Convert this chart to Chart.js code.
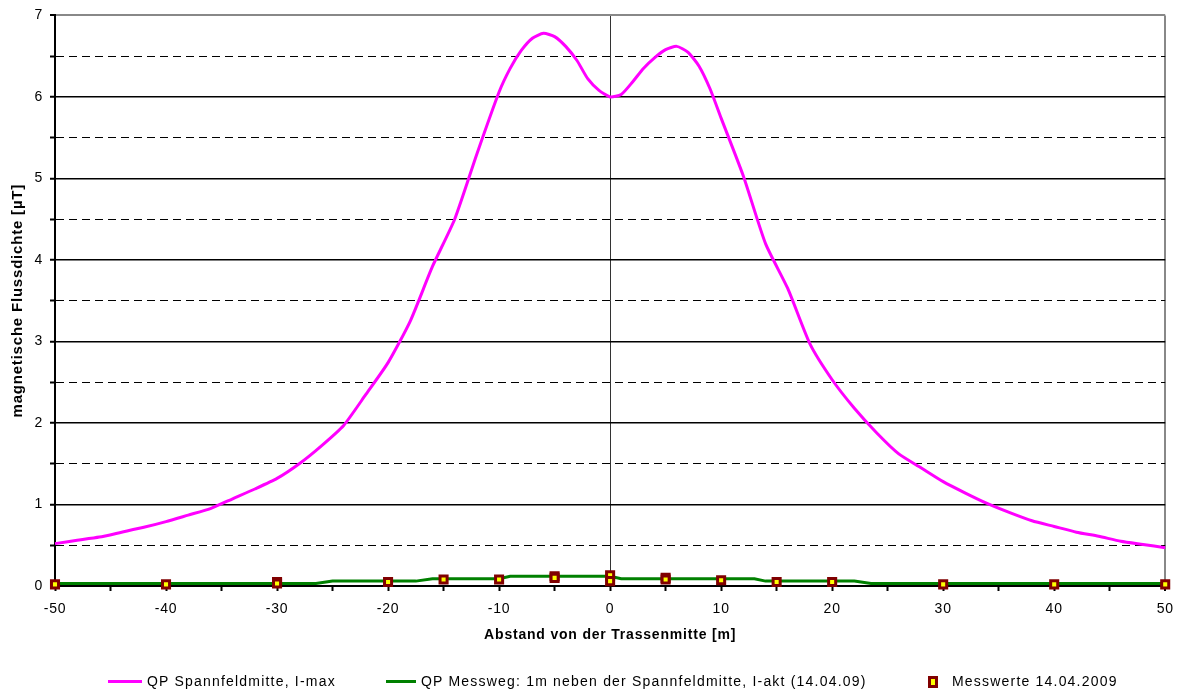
<!DOCTYPE html>
<html>
<head>
<meta charset="utf-8">
<script src="https://cdn.jsdelivr.net/npm/chart.js@4.4.0/dist/chart.umd.min.js"></script>
<style>
  body { margin: 0; background: #fff; }
  #wrap { position: relative; width: 1183px; height: 691px; }
  .legend-text {
    position: absolute;
    top: 672px;
    font: 14px "Liberation Sans", Arial, sans-serif;
    letter-spacing: 1.2px;
    color: #000;
    white-space: nowrap;
    line-height: 18px;
  }
  .legend-swatch { position: absolute; }
</style>
</head>
<body>
<div id="wrap">
  <canvas id="fluxChart" width="1183" height="691"></canvas>
  <div id="legend"></div>
</div>
<script>
// Magnetic flux density across the line corridor

const distIMax = [-50, -48, -46, -44, -42, -40, -38, -36, -34, -32, -30, -28, -26, -24, -22, -20, -18, -16, -14, -12,
  -10, -9, -8, -7, -6, -5, -4, -3, -2, -1, 0, 1, 2, 3, 4, 5, 6, 7, 8, 9, 10, 12, 14, 16, 18, 20, 22, 24, 26, 28, 30,
  32, 34, 36, 38, 40, 42, 44, 46, 48, 50]
const fluxIMax = [0.52, 0.56, 0.60, 0.66, 0.72, 0.79, 0.87, 0.95, 1.07, 1.19, 1.32, 1.50, 1.72, 1.97, 2.35, 2.74, 3.25, 3.92, 4.50, 5.30,
  6.06, 6.35, 6.57, 6.72, 6.78, 6.74, 6.62, 6.45, 6.22, 6.08, 6.00, 6.03, 6.18, 6.35, 6.48, 6.58, 6.62, 6.55, 6.38, 6.10, 5.74, 5.03, 4.20, 3.65, 2.97, 2.53, 2.18, 1.88, 1.62, 1.45, 1.28,
  1.14, 1.01, 0.90, 0.80, 0.73, 0.66, 0.61, 0.55, 0.51, 0.47]

const distIAkt = [-50, -26.5, -25, -17.5, -16, -10, -9, 0, 1, 13, 14, 22, 23.5, 50]
const fluxIAkt = [0.03, 0.03, 0.06, 0.06, 0.09, 0.09, 0.12, 0.12, 0.09, 0.09, 0.06, 0.06, 0.03, 0.03]

const distMess = [-50, -40, -30, -30, -20, -15, -10, -5, -5, 0, 0, 5, 5, 10, 15, 20, 30, 40, 50]
const fluxMess = [0.02, 0.02, 0.05, 0.03, 0.05, 0.08, 0.08, 0.12, 0.10, 0.13, 0.06, 0.10, 0.08, 0.07, 0.05, 0.05, 0.02, 0.02, 0.02]

const xTickLabels = [-50, -40, -30, -20, -10, 0, 10, 20, 30, 40, 50]
const yTickLabels = [0, 1, 2, 3, 4, 5, 6, 7]

const labels = [
  "QP Spannfeldmitte, I-max",
  "QP Messweg: 1m neben der Spannfeldmitte, I-akt (14.04.09)",
  "Messwerte 14.04.2009",
]

const toPoints = (xs, ys) => xs.map((x, i) => ({ x: x, y: ys[i] }))

const fontFamily = '"Liberation Sans", Arial, sans-serif'

// Excel draws its text a bit wider than the browser does
const letterSpacing = {
  id: "letterSpacing",
  beforeDraw(chart) {
    chart.ctx.letterSpacing = "0.8px"
  },
}

const ctx = document.getElementById("fluxChart")

const chart = new Chart(ctx, {
  type: "scatter",
  data: {
    datasets: [
      {
        label: labels[2],
        data: toPoints(distMess, fluxMess),
        showLine: false,
        pointStyle: "rect",
        pointRadius: 5,
        pointBackgroundColor: "#ffff00",
        pointBorderColor: "#800000",
        pointBorderWidth: 3,
        clip: false,
        order: 0,
      },
      {
        label: labels[1],
        data: toPoints(distIAkt, fluxIAkt),
        showLine: true,
        borderColor: "#008000",
        borderWidth: 3,
        pointRadius: 0,
        order: 1,
      },
      {
        label: labels[0],
        data: toPoints(distIMax, fluxIMax),
        showLine: true,
        borderColor: "#ff00ff",
        borderWidth: 3,
        pointRadius: 0,
        tension: 0.2,
        clip: false,
        order: 2,
      },
    ],
  },
  options: {
    responsive: false,
    animation: false,
    layout: {
      padding: { top: 14, right: 17, bottom: 43, left: 0 },
    },
    plugins: {
      legend: { display: false },
      tooltip: { enabled: false },
    },
    scales: {
      x: {
        type: "linear",
        min: -50,
        max: 50,
        afterFit: (scale) => {
          scale.height = 62
        },
        ticks: {
          stepSize: 5,
          autoSkip: false,
          maxRotation: 0,
          padding: 10,
          color: "#000",
          font: { family: fontFamily, size: 14 },
          callback: (v) => (xTickLabels.includes(v) ? String(v) : ""),
        },
        grid: {
          color: (c) => {
            if (!c.tick) return "rgba(0,0,0,0)"
            if (c.tick.value === 0) return "#333333"
            if (c.tick.value === 50) return "#888888"
            return "rgba(0,0,0,0)"
          },
          lineWidth: (c) => (c.tick && c.tick.value === 50 ? 2 : 1),
          tickColor: "#000",
          tickLength: 5,
          tickWidth: 2,
        },
        border: { color: "#000", width: 2 },
        title: {
          display: true,
          text: "Abstand von der Trassenmitte [m]",
          color: "#000",
          font: { family: fontFamily, size: 14, weight: "bold" },
          padding: { top: 4, bottom: 4 },
        },
      },
      y: {
        min: 0,
        max: 7,
        afterFit: (scale) => {
          scale.width = 55
        },
        ticks: {
          stepSize: 0.5,
          autoSkip: false,
          padding: 7,
          color: "#000",
          font: { family: fontFamily, size: 14 },
          callback: (v) => (yTickLabels.includes(v) ? String(v) : ""),
        },
        grid: {
          color: (c) => (c.tick && c.tick.value === 7 ? "#888888" : "#000"),
          lineWidth: (c) => {
            if (!c.tick) return 1
            if (c.tick.value === 7) return 2
            return c.tick.value % 1 === 0 ? 1.5 : 1
          },
          tickColor: "#000",
          tickLength: 5,
          tickWidth: 2,
        },
        border: {
          color: "#000",
          width: 2,
          dash: (c) => (c.tick && c.tick.value % 1 !== 0 ? [8, 5] : []),
        },
        title: {
          display: true,
          text: "magnetische Flussdichte [µT]",
          color: "#000",
          font: { family: fontFamily, size: 15, weight: "bold" },
          padding: { top: 9, bottom: 9 },
        },
      },
    },
  },
  plugins: [letterSpacing],
})

// Legend below the x axis title, laid out like the Excel original
const legendLayout = [
  { swatchLeft: 108, textLeft: 147 },
  { swatchLeft: 386, textLeft: 421 },
  { swatchLeft: 928, textLeft: 952 },
]

function buildLegend() {
  const box = document.getElementById("legend")
  const sets = [chart.data.datasets[2], chart.data.datasets[1], chart.data.datasets[0]]
  sets.forEach((ds, i) => {
    const pos = legendLayout[i]
    const swatch = document.createElement("span")
    swatch.className = "legend-swatch"
    if (ds.showLine) {
      swatch.style.left = pos.swatchLeft + "px"
      swatch.style.top = "680px"
      swatch.style.width = (pos.textLeft - pos.swatchLeft - 5) + "px"
      swatch.style.height = "3px"
      swatch.style.background = ds.borderColor
    } else {
      swatch.style.left = pos.swatchLeft + "px"
      swatch.style.top = "676px"
      swatch.style.width = "4px"
      swatch.style.height = "6px"
      swatch.style.background = ds.pointBackgroundColor
      swatch.style.border = "3px solid " + ds.pointBorderColor
    }
    box.appendChild(swatch)

    const text = document.createElement("span")
    text.className = "legend-text"
    text.style.left = pos.textLeft + "px"
    text.textContent = ds.label
    box.appendChild(text)
  })
}

buildLegend()
</script>
</body>
</html>
